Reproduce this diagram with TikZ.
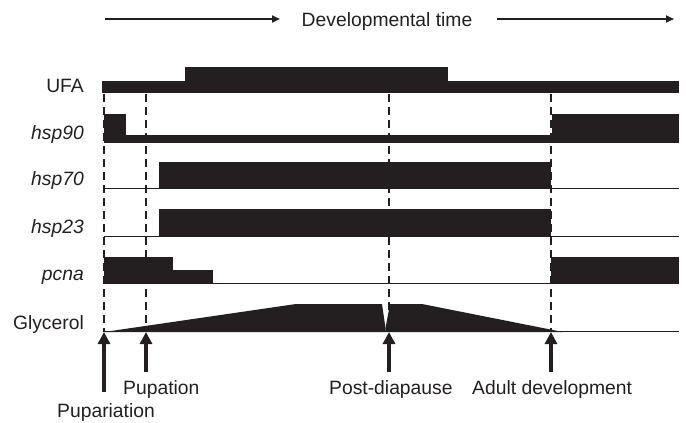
\documentclass[tikz,border=0pt]{standalone}
\usepackage{fontspec}
\setmainfont{Liberation Sans}
\usetikzlibrary{arrows.meta}
\definecolor{ink}{RGB}{35,31,32}
\begin{document}
\begin{tikzpicture}[x=1pt,y=-1pt,
  lbl/.style={anchor=base east, inner sep=0pt, text=ink, font=\fontsize{19.3}{23}\selectfont},
  txt/.style={anchor=base west, inner sep=0pt, text=ink, font=\fontsize{19.3}{23}\selectfont},
  bar/.style={fill=ink, draw=none},
  baseline/.style={draw=ink, line width=1pt},
  guide/.style={draw=ink, line width=2.8pt, dash pattern=on 8pt off 5pt},
  event/.style={draw=ink, line width=3.2pt, -{Triangle[length=12pt,width=12pt]}},
  timearrow/.style={draw=ink, line width=2pt, -{Triangle[length=8pt,width=7pt]}}]
\useasboundingbox (0,0) rectangle (686,423);

% title
\node[anchor=base, inner sep=0pt, text=ink, font=\fontsize{19.3}{23}\selectfont] (title) at (387,27) {Developmental time};
\coordinate (ta1) at (105,19); \coordinate (ta2) at (280,19);
\coordinate (tb1) at (497,19); \coordinate (tb2) at (674,19);
\draw[timearrow] (ta1) -- (ta2);
\draw[timearrow] (tb1) -- (tb2);

% labels
\node[lbl] (lufa) at (84,92) {UFA};
\node[lbl] (lh90) at (84,139) {\itshape hsp90};
\node[lbl] (lh70) at (84,185) {\itshape hsp70};
\node[lbl] (lh23) at (84,233) {\itshape hsp23};
\node[lbl] (lpcna) at (84,280) {\itshape pcna};
\node[lbl] (lgly) at (84,329) {Glycerol};

% UFA
\fill[bar] (102,80.5) rectangle (679,93);
\fill[bar] (185,67) rectangle (448,93);

% hsp90
\fill[bar] (104,114) rectangle (126,143);
\fill[bar] (104,135) rectangle (552,143);
\fill[bar] (552,114) rectangle (679,143);

% hsp70
\draw[baseline] (104,188.5) -- (679,188.5);
\fill[bar] (159,162) rectangle (551,189);

% hsp23
\draw[baseline] (104,236.5) -- (679,236.5);
\fill[bar] (159,209) rectangle (551,237);

% pcna
\draw[baseline] (104,283.5) -- (679,283.5);
\fill[bar] (104,257) rectangle (173,284);
\fill[bar] (173,270) rectangle (213,284);
\fill[bar] (551,257) rectangle (679,284);

% Glycerol
\draw[baseline] (104,331.5) -- (679,331.5);
\fill[bar] (104,332) -- (296,304) -- (382,304) -- (385.5,328) -- (385.5,332) -- cycle;
\fill[bar] (385.5,332) -- (385.5,328) -- (390,304) -- (422,304) -- (563,332) -- cycle;

% guide lines
\coordinate (g1t) at (104,94); \coordinate (g1b) at (104,332);
\coordinate (g2t) at (146,94); \coordinate (g2b) at (146,332);
\coordinate (g3t) at (389,94); \coordinate (g3b) at (389,332);
\coordinate (g4t) at (551,94); \coordinate (g4b) at (551,332);
\draw[guide] (g1t) -- (g1b);
\draw[guide] (g2t) -- (g2b);
\draw[guide] (g3t) -- (g3b);
\draw[guide] (g4t) -- (g4b);

% event arrows
\coordinate (e1) at (104,392); \coordinate (e2) at (146,372);
\coordinate (e3) at (389,372); \coordinate (e4) at (551,372);
\draw[event] (e1) -- (g1b);
\draw[event] (e2) -- (g2b);
\draw[event] (e3) -- (g3b);
\draw[event] (e4) -- (g4b);

\node[txt] (pupation) at (123,394) {Pupation};
\node[txt] (pupariation) at (57,417) {Pupariation};
\node[txt] (postdia) at (329,394) {Post-diapause};
\node[txt] (adult) at (472,394) {Adult development};
\end{tikzpicture}
\end{document}
